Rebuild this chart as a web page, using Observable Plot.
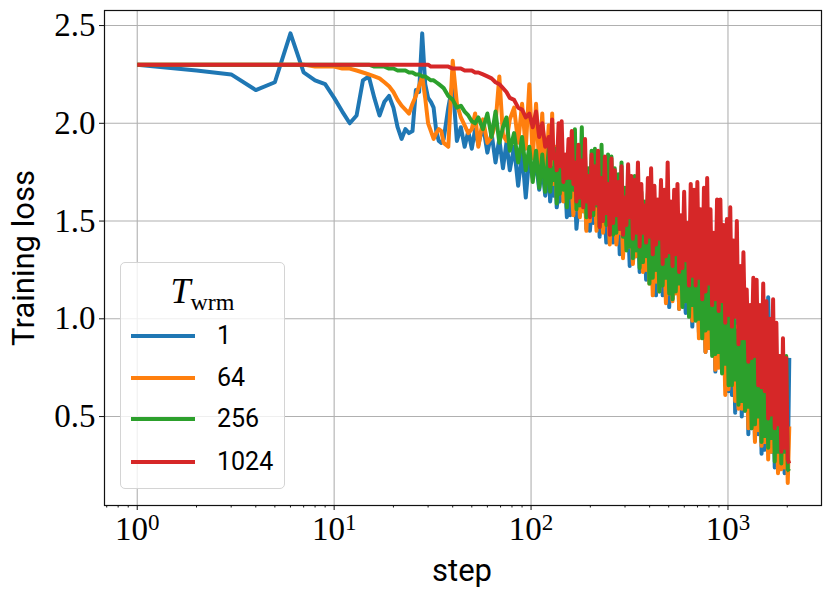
<!DOCTYPE html>
<html>
<head>
<meta charset="utf-8">
<script src="https://cdn.jsdelivr.net/npm/d3@7"></script>
<script src="https://cdn.jsdelivr.net/npm/@observablehq/plot@0.6"></script>
<style>
  body { margin: 0; background: #fff; }
  #wrap { position: relative; width: 831px; height: 598px; }
  #legend { position: absolute; left: 120px; top: 262px; width: 165px; height: 227px;
    border: 1px solid #d4d4d4; border-radius: 5px; background: rgba(255,255,255,0.8); box-sizing: border-box; }
  #legend .title { position: absolute; left: 0; width: 100%; top: 10px; text-align: center;
    font-family: "Liberation Serif", "DejaVu Serif", serif; font-size: 36px; line-height: 36px; }
  #legend .title i { font-style: italic; }
  #legend .title span { font-size: 24px; position: relative; top: 7px; }
  #legend .sw { position: absolute; left: 10px; width: 64px; height: 4px; }
  #legend .lab { position: absolute; left: 96px; font-family: Roboto, sans-serif; font-size: 25px; line-height: 26px; color: #000; }
</style>
</head>
<body>
<div id="wrap"></div>
<script>
// ---- data ----
const steps = [1,2,3,4,5,6,7,8,9,10,11,12,13,14,15,16,17,18,19,20,21,22,23,24,25,26,27,28,29,30,31,32,33,34,35,
  36,38,40,42,44,46,48,50,52,54, 57,60,63,66,69,72,75,78,82,86, 90,94,98,102,106,110,114,118,
  123,125,128,130,133,135,138,140,143,146,
  149,152,155,158,161,164,167,170,174,177,
  181,184,188,191,195,199,203,207,211,215,
  219,223,228,232,237,241,246,251,256,261,
  266,271,277,282,288,293,299,305,311,317,
  323,329,336,342,349,356,363,370,377,384,
  392,399,407,415,423,431,440,448,457,466,
  475,484,494,503,513,523,533,543,554,565,
  576,587,599,610,622,634,647,659,672,685,
  699,712,726,740,755,769,784,799,815,831,
  847,863,880,897,915,933,951,969,988,1007,
  1027,1047,1067,1088,1109,1131,1153,1175,1198,1221,
  1245,1269,1294,1319,1345,1371,1398,1425,1453,1481,
  1510,1539,1569,1600,1631,1663,1695,1728,1761,1795,
  1830,1866,1902,1939,1976,2012,2048];

const lossT1 = [2.30,2.27,2.25,2.17,2.21,2.46,2.26,2.22,2.20,2.13,2.06,2.00,2.04,2.22,2.24,2.13,2.04,2.11,2.14,2.08,
  1.98,1.92,1.97,1.95,1.96,2.17,2.16,2.46,2.20,2.13,2.11,2.08,1.96,1.91,1.90,
  1.92,2.08,2.20,1.91,1.98,1.88,1.96,1.87,1.97,1.89, 1.99,1.85,1.95,1.80,1.92,1.77,1.90,1.76,1.88,1.68,
  1.85,1.62,1.83,1.72,1.80,1.66,1.78,1.63,
  1.76,1.60,1.70,1.63,1.77,1.57,1.64,1.60,1.76,1.64,
  1.70,1.52,1.66,1.53,1.74,1.60,1.66,1.46,1.58,1.53,
  1.67,1.55,1.69,1.46,1.61,1.45,1.57,1.49,1.64,1.53,
  1.60,1.42,1.66,1.47,1.52,1.39,1.58,1.45,1.60,1.39,
  1.51,1.42,1.57,1.33,1.44,1.38,1.56,1.40,1.48,1.27,
  1.52,1.30,1.42,1.32,1.47,1.24,1.50,1.29,1.41,1.20,
  1.35,1.20,1.44,1.24,1.45,1.12,1.36,1.16,1.38,1.12,
  1.42,1.16,1.28,1.06,1.35,1.10,1.30,1.15,1.38,1.05,
  1.28,1.09,1.21,1.03,1.30,1.08,1.26,0.96,1.18,1.01,
  1.25,0.93,1.16,0.97,1.10,0.83,1.21,0.85,1.13,0.84,
  1.06,0.73,1.11,0.76,0.98,0.78,1.06,0.66,1.06,0.63,
  0.92,0.61,0.96,0.52,0.99,0.57,0.87,0.50,0.92,0.53,
  0.84,0.41,0.90,0.44,0.75,0.38,0.81,0.41,0.76,0.31,
  0.80,0.33,0.69,1.11,0.74,0.32,0.64,0.24,0.71,0.28,
  0.62,0.24,0.66,0.21,0.56,0.22,0.80];

const lossT64 = [2.30,2.30,2.30,2.30,2.30,2.30,2.30,2.29,2.29,2.29,2.28,2.28,2.27,2.26,2.25,2.24,2.23,2.21,2.19,2.16,
  2.12,2.09,2.07,2.05,2.10,2.14,2.19,2.24,2.13,2.00,1.96,1.92,1.95,1.97,1.96,
  1.90,1.88,2.32,2.10,2.03,1.99,1.95,1.97,2.05,1.88, 2.02,1.90,1.93,2.00,2.24,1.94,1.91,2.02,2.08,1.90,
  2.10,1.87,2.20,1.82,2.10,1.78,2.05,1.70,
  1.99,1.68,2.05,1.69,1.88,1.61,1.85,1.68,1.85,1.60,
  1.75,1.61,1.80,1.65,1.67,1.53,1.78,1.56,1.70,1.52,
  1.73,1.55,1.63,1.45,1.68,1.50,1.71,1.55,1.62,1.45,
  1.56,1.49,1.65,1.44,1.66,1.50,1.56,1.38,1.58,1.44,
  1.63,1.38,1.49,1.44,1.56,1.31,1.50,1.36,1.58,1.37,
  1.49,1.28,1.42,1.32,1.51,1.36,1.48,1.24,1.41,1.25,
  1.48,1.18,1.40,1.12,1.35,1.19,1.47,1.14,1.40,1.19,
  1.34,1.08,1.39,1.13,1.27,1.09,1.36,1.13,1.38,1.05,
  1.25,1.08,1.30,1.10,1.31,1.07,1.21,0.99,1.26,1.01,
  1.19,0.90,1.25,0.93,1.11,0.83,1.16,0.85,1.10,0.88,
  1.13,0.74,1.02,0.75,1.06,0.74,0.96,0.61,1.02,0.64,
  0.97,0.67,0.91,0.58,0.96,0.54,0.82,0.54,0.91,0.57,
  0.85,0.44,0.78,0.46,0.85,0.37,0.76,0.43,0.67,0.35,
  0.75,0.37,0.76,0.28,0.67,0.32,1.00,0.34,0.68,0.21,
  0.62,0.23,0.67,0.24,0.51,0.16,0.45];

const lossT256 = [2.30,2.30,2.30,2.30,2.30,2.30,2.30,2.30,2.30,2.30,2.30,2.30,2.30,2.30,2.30,
  2.29,2.29,2.29,2.28,2.28,2.27,2.27,2.27,2.26,2.26,2.25,2.25,2.24,2.24,2.23,2.22,2.22,2.21,2.20,2.19,
  2.18,2.14,2.12,2.08,2.09,2.06,2.04,2.01,2.00,2.03, 1.97,2.05,1.93,2.06,1.90,1.98,2.03,1.86,1.95,1.80,
  1.93,1.76,1.88,1.70,1.86,1.67,1.84,1.65,
  1.87,1.65,1.77,1.71,1.87,1.59,1.80,1.64,1.86,1.66,
  1.80,1.57,1.80,1.62,1.88,1.66,1.97,1.56,1.87,1.58,
  1.98,1.61,1.83,1.52,1.77,1.57,1.86,1.53,1.87,1.58,
  1.78,1.47,1.89,1.52,1.72,1.48,1.84,1.51,1.83,1.43,
  1.77,1.44,1.74,1.46,1.80,1.42,1.67,1.35,1.72,1.37,
  1.69,1.31,1.73,1.35,1.59,1.26,1.65,1.29,1.60,1.32,
  1.64,1.18,1.53,1.21,1.58,1.25,1.48,1.14,1.55,1.17,
  1.50,1.21,1.44,1.13,1.49,1.10,1.37,1.14,1.47,1.18,
  1.42,1.06,1.35,1.09,1.43,1.01,1.34,1.07,1.25,0.99,
  1.33,1.00,1.34,0.90,1.25,0.94,1.20,0.95,1.25,0.81,
  1.19,0.82,1.24,0.83,1.09,0.72,1.13,0.77,1.13,0.66,
  1.02,0.66,1.07,0.69,0.94,0.56,1.04,0.58,0.95,0.53,
  0.98,0.55,0.86,0.44,0.90,0.46,0.93,0.50,0.83,0.37,
  0.76,0.40,0.84,0.34,0.84,0.39,0.74,0.27,0.76,0.32,
  0.81,0.26,0.71,0.32,0.81,0.23,0.22];

const lossT1024 = [2.30,2.30,2.30,2.30,2.30,2.30,2.30,2.30,2.30,2.30,2.30,2.30,2.30,2.30,2.30,
  2.30,2.30,2.30,2.30,2.30,2.30,2.30,2.30,2.30,2.30,2.30,2.30,2.30,2.30,2.30,2.29,2.29,2.29,2.29,2.29,
  2.29,2.29,2.28,2.28,2.28,2.27,2.27,2.27,2.26,2.26, 2.25,2.24,2.23,2.21,2.20,2.18,2.16,2.13,2.12,2.08,
  2.07,2.03,2.05,1.98,2.06,1.93,2.00,1.88,
  1.93,1.78,2.02,1.82,1.84,1.76,2.00,1.78,2.01,1.70,
  1.84,1.72,1.92,1.72,1.96,1.69,1.80,1.60,1.89,1.62,
  1.81,1.57,1.92,1.60,1.73,1.52,1.84,1.56,1.78,1.59,
  1.86,1.47,1.72,1.50,1.83,1.54,1.69,1.43,1.82,1.49,
  1.76,1.53,1.70,1.46,1.78,1.43,1.62,1.48,1.79,1.52,
  1.73,1.41,1.71,1.44,1.80,1.37,1.69,1.44,1.58,1.39,
  1.72,1.42,1.77,1.33,1.68,1.38,1.61,1.41,1.71,1.28,
  1.66,1.32,1.80,1.34,1.60,1.27,1.66,1.33,1.69,1.24,
  1.53,1.26,1.65,1.30,1.49,1.17,1.69,1.22,1.66,1.17,
  1.70,1.21,1.56,1.10,1.67,1.14,1.72,1.18,1.56,1.07,
  1.44,1.10,1.61,1.04,1.61,1.09,1.48,0.98,1.51,1.02,
  1.57,0.96,1.40,1.01,1.50,0.87,1.27,0.90,1.34,0.90,
  1.15,0.78,1.07,0.80,1.21,0.81,1.20,0.66,1.07,0.65,
  1.18,0.63,1.09,0.49,1.00,0.51,1.10,0.44,0.98,0.46,
  0.81,0.32,0.90,0.34,0.80,0.28,0.26];

const seriesNames = ["1", "64", "256", "1024"];
const seriesLosses = [lossT1, lossT64, lossT256, lossT1024];
const colors = ["#1f77b4", "#ff7f0e", "#2ca02c", "#d62728"];
const xMajorTicks = [1, 10, 100, 1000];
const xMinorTicks = [0.7,0.8,0.9,2,3,4,5,6,7,8,9,20,30,40,50,60,70,80,90,200,300,400,500,600,700,800,900,2000];
const yTicks = [0.5, 1.0, 1.5, 2.0, 2.5];
const xLabel = "step";
const yLabel = "Training loss";

// ---- build ----
const series = seriesNames.map((name, i) =>
  steps.map((s, j) => ({step: s, loss: seriesLosses[i][j], name})));

const sup = {"0": "\u2070", "1": "\u00b9", "2": "\u00b2", "3": "\u00b3"};
const serif = "'Liberation Serif', 'DejaVu Serif', serif";

const chart = Plot.plot({
  width: 831,
  height: 598,
  marginLeft: 104,
  marginRight: 10,
  marginTop: 10,
  marginBottom: 93,
  style: {background: "#fff", overflow: "visible"},
  x: {type: "log", domain: [0.682, 2985]},
  y: {domain: [0.045, 2.577]},
  marks: [
    Plot.gridX(xMajorTicks, {stroke: "#b0b0b0", strokeOpacity: 1, strokeWidth: 1.1}),
    Plot.gridY(yTicks, {stroke: "#b0b0b0", strokeOpacity: 1, strokeWidth: 1.1}),
    ...series.map((d, i) => Plot.line(d, {x: "step", y: "loss", stroke: colors[i], strokeWidth: 4,
      strokeLinejoin: "round", strokeLinecap: "butt"})),
    Plot.frame({stroke: "#111", strokeWidth: 1.2}),
    Plot.axisX(xMajorTicks, {tickSize: 5, tickPadding: 6, label: null,
      tickFormat: d => "10" + sup[String(Math.round(Math.log10(d)))],
      fontSize: 33, fontFamily: serif, stroke: "#111"}),
    Plot.axisX(xMinorTicks, {tickSize: 2.5, text: null, label: null, stroke: "#111"}),
    Plot.axisY(yTicks, {tickSize: 5, tickPadding: 4, label: null,
      tickFormat: d => d.toFixed(1), fontSize: 33, fontFamily: serif, stroke: "#111"})
  ]
});

const wrap = document.getElementById("wrap");
wrap.appendChild(chart);

// superscript exponents on the x tick labels
const inv = {"\u2070": "0", "\u00b9": "1", "\u00b2": "2", "\u00b3": "3"};
chart.querySelectorAll('g[aria-label="x-axis tick label"] text').forEach(t => {
  const s = t.textContent;
  const e = inv[s.slice(2)];
  if (e === undefined) return;
  while (t.firstChild) t.removeChild(t.firstChild);
  const a = document.createElementNS("http://www.w3.org/2000/svg", "tspan");
  a.textContent = "10";
  const b = document.createElementNS("http://www.w3.org/2000/svg", "tspan");
  b.textContent = e;
  b.setAttribute("font-size", "23");
  b.setAttribute("dy", "-0.42em");
  t.appendChild(a); t.appendChild(b);
});

// axis titles
const svg = d3.select(chart);
svg.append("text")
  .attr("x", 462).attr("y", 581)
  .attr("text-anchor", "middle")
  .style("font-family", "Roboto, sans-serif").style("font-size", "31px").attr("fill", "#000")
  .text(xLabel);
svg.append("text")
  .attr("transform", "translate(34,258) rotate(-90)")
  .attr("text-anchor", "middle")
  .style("font-family", "Roboto, sans-serif").style("font-size", "31px").attr("fill", "#000")
  .text(yLabel);

// legend
const lg = document.createElement("div");
lg.id = "legend";
const title = document.createElement("div");
title.className = "title";
title.innerHTML = "<i>T</i><span>wrm</span>";
lg.appendChild(title);
const rowY = [73, 115, 156, 199];
seriesNames.forEach((n, i) => {
  const sw = document.createElement("div");
  sw.className = "sw";
  sw.style.top = (rowY[i] - 2) + "px";
  sw.style.background = colors[i];
  lg.appendChild(sw);
  const lab = document.createElement("div");
  lab.className = "lab";
  lab.style.top = (rowY[i] - 13) + "px";
  lab.textContent = n;
  lg.appendChild(lab);
});
wrap.appendChild(lg);
</script>
</body>
</html>
